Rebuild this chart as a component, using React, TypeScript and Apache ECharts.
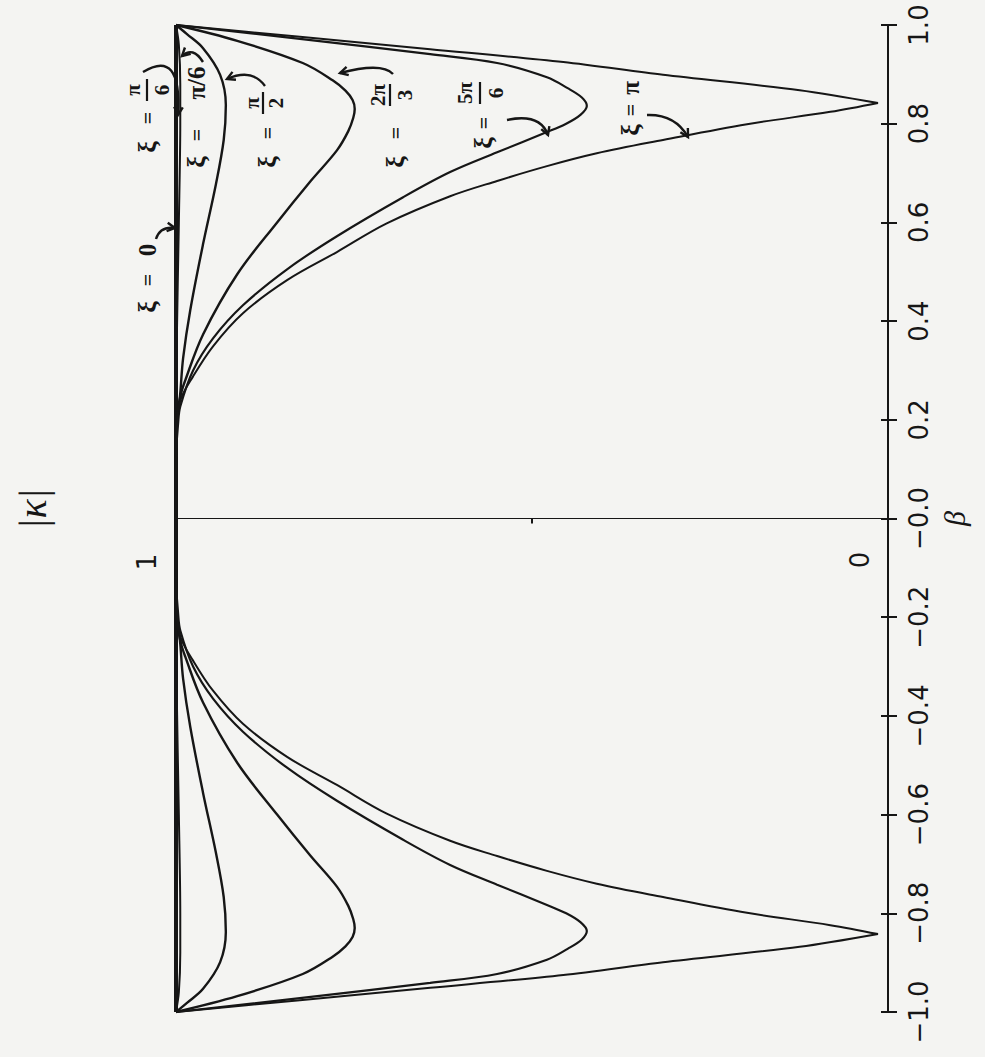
import React, { useEffect, useRef } from 'react';
import * as echarts from 'echarts';

// ---- data: each point is [|kappa|, beta] ----
const betaTickLabels = ['−1.0', '−0.8', '−0.6', '−0.4', '−0.2', '−0.0', '0.2', '0.4', '0.6', '0.8', '1.0'];
const kappaEndLabels = ['1', '0'];

const xi0 = [[1.0, -1.0], [1.0, 1.0]];

const xiPi6 = [
  [1.0, -1.0], [0.996, -0.96], [0.994, -0.88], [0.994, -0.8], [0.996, -0.6], [0.999, -0.35], [1.0, -0.15],
  [1.0, 0.15], [0.999, 0.35], [0.996, 0.6], [0.994, 0.8], [0.994, 0.88], [0.996, 0.96], [1.0, 1.0],
];

const xiPi2 = [
  [1.0, -1.0], [0.985, -0.982], [0.962, -0.953], [0.938, -0.899], [0.93, -0.838], [0.933, -0.767],
  [0.944, -0.677], [0.962, -0.556], [0.98, -0.422], [0.99, -0.325], [0.994, -0.254], [1.0, -0.162],
  [1.0, 0.162], [0.994, 0.254], [0.99, 0.325], [0.98, 0.422], [0.962, 0.556], [0.944, 0.677],
  [0.933, 0.767], [0.93, 0.838], [0.938, 0.899], [0.962, 0.953], [0.985, 0.982], [1.0, 1.0],
];

const xi2Pi3 = [
  [1.0, -1.0], [0.914, -0.968], [0.822, -0.923], [0.78, -0.888], [0.762, -0.867], [0.752, -0.848],
  [0.749, -0.83], [0.751, -0.812], [0.758, -0.785], [0.774, -0.746], [0.812, -0.682], [0.858, -0.6],
  [0.914, -0.495], [0.962, -0.373], [0.987, -0.28], [0.994, -0.247], [1.0, -0.183],
  [1.0, 0.183], [0.994, 0.247], [0.987, 0.28], [0.962, 0.373], [0.914, 0.495], [0.858, 0.6],
  [0.812, 0.682], [0.774, 0.746], [0.758, 0.785], [0.751, 0.812], [0.749, 0.83], [0.752, 0.848],
  [0.762, 0.867], [0.78, 0.888], [0.822, 0.923], [0.914, 0.968], [1.0, 1.0],
];

const xi5Pi6 = [
  [1.0, -1.0], [0.826, -0.972], [0.643, -0.941], [0.549, -0.923], [0.479, -0.894], [0.45, -0.872],
  [0.43, -0.853], [0.423, -0.836], [0.432, -0.818], [0.452, -0.8], [0.479, -0.783], [0.549, -0.742],
  [0.615, -0.702], [0.681, -0.651], [0.774, -0.572], [0.844, -0.505], [0.906, -0.432], [0.948, -0.365],
  [0.976, -0.3], [0.994, -0.227], [0.997, -0.193], [1.0, -0.12],
  [1.0, 0.12], [0.997, 0.193], [0.994, 0.227], [0.976, 0.3], [0.948, 0.365], [0.906, 0.432],
  [0.844, 0.505], [0.774, 0.572], [0.681, 0.651], [0.615, 0.702], [0.549, 0.742], [0.479, 0.783],
  [0.452, 0.8], [0.432, 0.818], [0.423, 0.836], [0.43, 0.853], [0.45, 0.872], [0.479, 0.894],
  [0.549, 0.923], [0.643, 0.941], [0.826, 0.972], [1.0, 1.0],
];

// ξ = π has sharp cusps, so it is kept in three pieces
const xiPiOuterLow = [
  [1.0, -1.0], [0.826, -0.976], [0.643, -0.951], [0.456, -0.925], [0.316, -0.899], [0.124, -0.868], [0.014, -0.842],
];
const xiPiInner = [
  [0.014, -0.842], [0.081, -0.824], [0.198, -0.799], [0.316, -0.767], [0.409, -0.74], [0.479, -0.714],
  [0.549, -0.684], [0.615, -0.653], [0.704, -0.598], [0.774, -0.54], [0.844, -0.483], [0.906, -0.416],
  [0.948, -0.349], [0.976, -0.288], [0.994, -0.239], [0.999, -0.183], [1.0, -0.1],
  [1.0, 0.1], [0.999, 0.183], [0.994, 0.239], [0.976, 0.288], [0.948, 0.349], [0.906, 0.416],
  [0.844, 0.483], [0.774, 0.54], [0.704, 0.598], [0.615, 0.653], [0.549, 0.684], [0.479, 0.714],
  [0.409, 0.74], [0.316, 0.767], [0.198, 0.799], [0.081, 0.824], [0.014, 0.842],
];
const xiPiOuterHigh = [
  [0.014, 0.842], [0.124, 0.868], [0.316, 0.899], [0.456, 0.925], [0.643, 0.951], [0.826, 0.976], [1.0, 1.0],
];

const INK = '#161616';
const PAPER = '#f4f4f2';
const HAND = '"Liberation Serif", "DejaVu Serif", serif';

type Ann = {
  x: number; y: number; eqAt: number; valAt: number;
  value?: string; num?: string; den?: string; numAt?: number; barAt?: number; denAt?: number;
};

const annotations: Ann[] = [
  { x: 147, y: 307, eqAt: 27, valAt: 57, value: '0' },
  { x: 147, y: 147, eqAt: 29, valAt: 57, num: 'π', den: '6', numAt: -14, barAt: 0, denAt: 15 },
  { x: 196, y: 162, eqAt: 27, valAt: 79, value: 'π/6' },
  { x: 267, y: 162, eqAt: 29, valAt: 59, num: 'π', den: '2', numAt: -15, barAt: -4, denAt: 9 },
  { x: 395, y: 162, eqAt: 29, valAt: 67, num: '2π', den: '3', numAt: -17, barAt: -5, denAt: 10 },
  { x: 483, y: 143, eqAt: 20, valAt: 50, num: '5π', den: '6', numAt: -18, barAt: -3, denAt: 13 },
  { x: 630, y: 130, eqAt: 20, valAt: 42, value: 'π' },
];

const arrows = [
  [156, 239, 160, 226, 175, 228],
  [143, 72, 182, 48, 178, 115],
  [203, 62, 193, 46, 182, 56],
  [265, 86, 252, 68, 227, 79],
  [393, 74, 382, 62, 340, 73],
  [507, 120, 540, 113, 548, 135],
  [647, 115, 675, 114, 688, 137],
];

function txt(text: string, x: number, y: number, size: number, extra: any = {}) {
  return {
    type: 'text',
    x,
    y,
    style: {
      text,
      fill: INK,
      fontSize: size,
      fontWeight: 'bold',
      fontFamily: HAND,
      align: 'center',
      verticalAlign: 'middle',
      textAlign: 'center',
      textVerticalAlign: 'middle',
      ...extra,
    },
  };
}

function buildAnnotation(a: Ann) {
  const children: any[] = [txt('ξ', 0, 0, 26), txt('=', a.eqAt, 0, 22)];
  if (a.value) {
    children.push(txt(a.value, a.valAt, 0, 25));
  } else {
    children.push(txt(a.num!, a.valAt, a.numAt!, 21));
    children.push({
      type: 'line',
      shape: { x1: a.valAt - 11, y1: a.barAt!, x2: a.valAt + 11, y2: a.barAt! },
      style: { stroke: INK, lineWidth: 2.2 },
    });
    children.push(txt(a.den!, a.valAt, a.denAt!, 21));
  }
  return { type: 'group', x: a.x, y: a.y, rotation: Math.PI / 2, children };
}

function buildArrow(p: number[]) {
  const [x1, y1, cx, cy, x2, y2] = p;
  const ang = Math.atan2(y2 - cy, x2 - cx);
  const L = 9;
  const s = 0.5;
  return [
    {
      type: 'bezierCurve',
      shape: { x1, y1, cpx1: cx, cpy1: cy, x2, y2 },
      style: { stroke: INK, lineWidth: 2.4, fill: 'none' },
    },
    {
      type: 'polyline',
      shape: {
        points: [
          [x2 - L * Math.cos(ang - s), y2 - L * Math.sin(ang - s)],
          [x2, y2],
          [x2 - L * Math.cos(ang + s), y2 - L * Math.sin(ang + s)],
        ],
      },
      style: { stroke: INK, lineWidth: 2.4, fill: 'none' },
    },
  ];
}

function curve(name: string, data: number[][], width: number, smooth: number | boolean) {
  return {
    name,
    type: 'line',
    data,
    xAxisIndex: 0,
    yAxisIndex: 0,
    showSymbol: false,
    symbol: 'none',
    clip: false,
    smooth,
    lineStyle: { color: INK, width },
    z: 3,
  };
}

export default function App() {
  const ref = useRef<HTMLDivElement>(null);
  useEffect(() => {
    if (!ref.current) return;
    const chart = echarts.init(ref.current, null, { renderer: 'svg' });
    const option: any = {
      animation: false,
      backgroundColor: PAPER,
      grid: { left: 176, right: 97, top: 25, bottom: 45, containLabel: false },
      xAxis: {
        type: 'value',
        min: 0,
        max: 1,
        interval: 0.5,
        inverse: true,
        axisLine: { show: true, onZero: true, lineStyle: { color: INK, width: 1.2 } },
        axisTick: { show: true, length: 5, lineStyle: { color: INK, width: 2 } },
        axisLabel: { show: false },
        splitLine: { show: false },
      },
      yAxis: [
        {
          type: 'value',
          position: 'right',
          min: -1,
          max: 1,
          interval: 0.2,
          name: 'β',
          nameLocation: 'middle',
          nameRotate: 90,
          nameGap: 51,
          nameMoveOverlap: false,
          nameTextStyle: { fontSize: 30, fontStyle: 'italic', fontFamily: HAND, color: INK },
          axisLine: { show: true, lineStyle: { color: INK, width: 2 } },
          axisTick: { show: true, length: 9, lineStyle: { color: INK, width: 2 } },
          axisLabel: {
            show: true,
            rotate: 90,
            margin: 18,
            fontSize: 26,
            fontFamily: '"DejaVu Sans", sans-serif',
            color: INK,
            formatter: (v: number) => betaTickLabels[Math.round((v + 1) * 5)],
          },
          splitLine: { show: false },
        },
        {
          type: 'value',
          position: 'right',
          min: -1,
          max: 1,
          interval: 0.2,
          axisLine: { show: false },
          axisTick: { show: true, inside: true, length: 7, lineStyle: { color: INK, width: 2 } },
          axisLabel: { show: false },
          splitLine: { show: false },
        },
      ],
      series: [
        curve('ξ = 0', xi0, 4, false),
        curve('ξ = π/6', xiPi6, 2, 0.3),
        curve('ξ = π/2', xiPi2, 2.4, 0.35),
        curve('ξ = 2π/3', xi2Pi3, 2.4, 0.35),
        curve('ξ = 5π/6', xi5Pi6, 2.2, 0.35),
        curve('ξ = π', xiPiOuterLow, 2, 0.3),
        curve('ξ = π', xiPiInner, 2, 0.35),
        curve('ξ = π', xiPiOuterHigh, 2, 0.3),
      ],
      graphic: [
        {
          type: 'text',
          x: 32,
          y: 509,
          rotation: Math.PI / 2,
          style: {
            text: '|κ|',
            fill: INK,
            fontSize: 40,
            fontStyle: 'italic',
            fontFamily: HAND,
            align: 'center',
            verticalAlign: 'middle',
            textAlign: 'center',
            textVerticalAlign: 'middle',
          },
        },
        {
          type: 'text',
          x: 147,
          y: 562,
          rotation: Math.PI / 2,
          style: {
            text: kappaEndLabels[0],
            fill: INK,
            fontSize: 26,
            fontFamily: '"DejaVu Sans", sans-serif',
            align: 'center',
            verticalAlign: 'middle',
            textAlign: 'center',
            textVerticalAlign: 'middle',
          },
        },
        {
          type: 'text',
          x: 860,
          y: 560,
          rotation: Math.PI / 2,
          style: {
            text: kappaEndLabels[1],
            fill: INK,
            fontSize: 26,
            fontFamily: '"DejaVu Sans", sans-serif',
            align: 'center',
            verticalAlign: 'middle',
            textAlign: 'center',
            textVerticalAlign: 'middle',
          },
        },
        ...annotations.map(buildAnnotation),
        ...arrows.flatMap(buildArrow),
      ],
    };
    chart.setOption(option);
    return () => chart.dispose();
  }, []);
  return (
    <div
      ref={ref}
      style={{ position: 'absolute', left: 0, top: 0, width: 985, height: 1057, background: PAPER }}
    />
  );
}
